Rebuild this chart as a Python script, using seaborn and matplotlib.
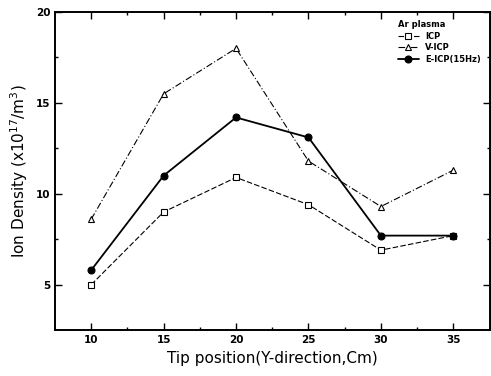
import pandas as pd
import numpy as np
import matplotlib.pyplot as plt
import seaborn as sns

tip_position = [10, 15, 20, 25, 30, 35]
icp = [5.0, 9.0, 10.9, 9.4, 6.9, 7.7]
v_icp = [8.6, 15.5, 18.0, 11.8, 9.3, 11.3]
e_icp = [5.8, 11.0, 14.2, 13.1, 7.7, 7.7]
series_names = ['ICP', 'V-ICP', 'E-ICP(15Hz)']

sns.set_style("ticks", {'text.color': 'black', 'axes.labelcolor': 'black',
                        'xtick.color': 'black', 'ytick.color': 'black',
                        'axes.edgecolor': 'black'})

df = pd.DataFrame({
    'x': tip_position * 3,
    'y': icp + v_icp + e_icp,
    'series': np.repeat(series_names, len(tip_position)),
})

fig = plt.figure(figsize=(4.91, 3.76), dpi=100)
ax = fig.add_axes([0.112, 0.122, 0.885, 0.846])

styles = {
    'ICP': dict(marker='s', ls=(0, (5, 2)), lw=0.8, mfc='white', ms=4),
    'V-ICP': dict(marker='^', ls=(0, (6, 2, 1, 2)), lw=0.8, mfc='white', ms=5),
    'E-ICP(15Hz)': dict(marker='o', ls='-', lw=1.3, mfc='black', ms=5),
}
for name in series_names:
    st = styles[name]
    sns.lineplot(data=df[df['series'] == name], x='x', y='y', ax=ax,
                 color='black', marker=st['marker'], linestyle=st['ls'],
                 linewidth=st['lw'], markerfacecolor=st['mfc'],
                 markeredgecolor='black', markersize=st['ms'],
                 markeredgewidth=0.8, label=name)

ax.set_xlim(7.5, 37.5)
ax.set_ylim(2.5, 20)
ax.set_xticks([10, 15, 20, 25, 30, 35])
ax.set_yticks([5, 10, 15, 20])
ax.set_xticks(np.arange(12.5, 37.5, 5), minor=True)
ax.set_yticks(np.arange(7.5, 20, 5), minor=True)
ax.tick_params(direction='in', top=True, right=True, length=5, width=1,
               labelsize=7.5)
ax.tick_params(which='minor', direction='in', top=True, right=True,
               length=2.5, width=1)
for lab in ax.get_xticklabels() + ax.get_yticklabels():
    lab.set_fontweight('bold')
for sp in ax.spines.values():
    sp.set_linewidth(1.4)

ax.set_xlabel('Tip position(Y-direction,Cm)', fontsize=11)
ax.set_ylabel('Ion Density (x10$^{17}$/m$^3$)', fontsize=11)

leg = ax.legend(title='Ar plasma', loc='upper right', frameon=False,
                fontsize=6, title_fontsize=6, handlelength=2.5,
                labelspacing=0.3, borderaxespad=0.6)
leg.get_title().set_fontweight('bold')
leg._legend_box.align = 'left'
for t in leg.get_texts():
    t.set_fontweight('bold')

plt.savefig('out.png', dpi=100)
plt.close()
